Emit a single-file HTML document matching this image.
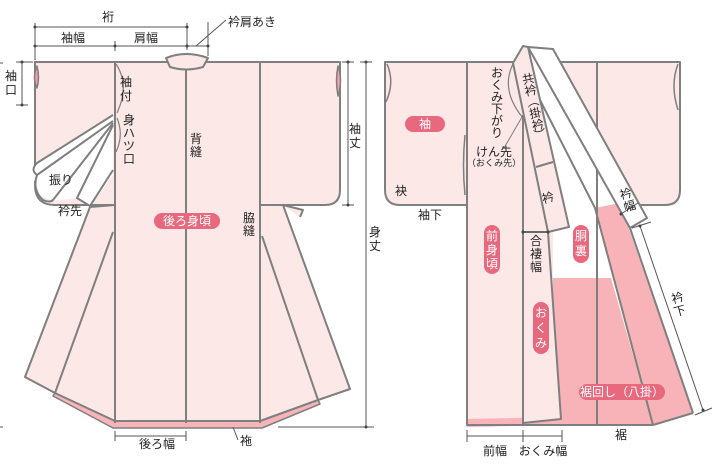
<!DOCTYPE html>
<html><head><meta charset="utf-8"><style>
html,body{margin:0;padding:0;background:#fff;}
svg{display:block;}
text{font-family:"Liberation Sans","Noto Sans CJK JP",sans-serif;font-size:12px;fill:#222;}
.w{fill:#fff;font-size:12px;}
.s{font-size:9px;}
</style></head><body>
<svg width="726" height="465" viewBox="0 0 726 465" xmlns="http://www.w3.org/2000/svg">
<g stroke="#7f7f7f" stroke-width="2" stroke-linejoin="round" fill="none">
<path d="M35,62 H115 V205 H55 Q35,205 35,185 Z" fill="#fde8e8"/>
<path d="M260,62 H340 V190 Q340,205 325,205 H260 Z" fill="#fde8e8"/>
<path d="M283,205 L303,210 L300,217" fill="#fde8e8"/>
<polygon points="55,393 115,421 260,421 318,400 320,404 262,428 113,428 53,396" fill="#f9b4b9" stroke-width="1.5"/>
<polygon points="115,62 260,62 260,205 283,205 350,389 318,400 260,421 115,421 55,393 25,377 90,207 115,205" fill="#fde8e8"/>
<line x1="115" y1="62" x2="115" y2="423"/>
<line x1="260" y1="62" x2="260" y2="423"/>
<line x1="186" y1="66" x2="186" y2="423"/>
<line x1="113" y1="232" x2="55" y2="393"/>
<line x1="262" y1="236" x2="318" y2="400"/>
<polygon points="113,115 33,166 32,175 40,195 53,201 77,198 90,207 113,175" fill="#fff" stroke="none"/>
<path d="M113,115 L37,163 Q30,170 37,175 L113,121"/>
<path d="M37,175 Q32,190 43,200 Q50,203 53,200 L113,123"/>
<path d="M113,125 L77,198 L90,206 L113,170"/>
<path d="M166,58 Q186,50 208,58 L203,67 Q186,72 170,67 Z" fill="#fde8e8"/>
<path d="M37,66 Q32,78 37,88 Q40,78 37,66 Z" fill="#f4a0a8" stroke-width="1.5"/>
<path d="M338,66 Q343,80 338,96 Q335,80 338,66 Z" fill="#f4a0a8" stroke-width="1.5"/>
<path d="M116,64 Q130,85 117,113" stroke-width="1.2"/>
<path d="M117,118 Q124,135 116,152" stroke-width="1.2"/>
<rect x="467" y="62" width="130" height="363" fill="#fde8e8"/>
<path d="M385,62 H467 V205 H400 Q385,205 385,190 Z" fill="#fde8e8"/>
<path d="M597,62 H680 V190 Q680,205 665,205 H597 Z" fill="#fde8e8"/>
<path d="M387,64 Q395,82 386,102" stroke-width="1.5"/>
<path d="M678,64 Q670,85 678,110" stroke-width="1.5"/>
<path d="M465,135 Q462,165 465,195" stroke-width="1.5"/>
<polygon points="528,47 553,49 647,218 630,228 693,413 653,425 553,425 553,232 569,227" fill="#fff" stroke="none"/>
<polygon points="553,278 611,278 653,425 553,425" fill="#f7b3b8" stroke="none"/>
<polygon points="595,208 620,203 693,413 653,425" fill="#f7b3b8" stroke="none"/>
<polygon points="467,419 561,417 561,425 467,427" fill="#f9b4b9" stroke="none"/>
<polygon points="523,232 548,232 561,419 523,423" fill="#fde8e8"/>
<line x1="467" y1="62" x2="467" y2="425"/>
<line x1="597" y1="62" x2="597" y2="425"/>
<line x1="523" y1="115" x2="523" y2="425"/>
<line x1="467" y1="425" x2="653" y2="425"/>
<line x1="653" y1="425" x2="693" y2="413"/>
<polyline points="540,100 595,208 653,425"/>
<polyline points="543,63 630,228 693,413"/>
<polygon points="528,47 553,49 647,218 630,228" fill="#fff"/>
<polygon points="513,63 523,46 528,47 569,227 548,232" fill="#fde8e8"/>
<line x1="536" y1="167" x2="553" y2="162"/>
<path d="M513,64 Q500,90 523,118" stroke-width="1.2"/>
<line x1="522" y1="117" x2="504" y2="148" stroke-width="1"/>
</g>
<g stroke="#555" stroke-width="1" fill="none">
<line x1="35" y1="27" x2="187" y2="27"/><line x1="35" y1="23" x2="35" y2="60"/><line x1="187" y1="23" x2="187" y2="50"/>
<line x1="35" y1="46" x2="208" y2="46"/><line x1="115" y1="41" x2="115" y2="51"/>
<line x1="208" y1="22" x2="208" y2="56"/><line x1="196" y1="46" x2="226" y2="20"/>
<line x1="22" y1="62" x2="22" y2="105"/><line x1="16" y1="62" x2="33" y2="62"/><line x1="16" y1="105" x2="28" y2="105"/>
<line x1="348" y1="62" x2="348" y2="205"/><line x1="342" y1="62" x2="354" y2="62"/><line x1="342" y1="205" x2="354" y2="205"/>
<line x1="366" y1="62" x2="366" y2="427"/><line x1="360" y1="62" x2="372" y2="62"/><line x1="278" y1="427" x2="374" y2="427"/>
<line x1="115" y1="436" x2="186" y2="436"/><line x1="115" y1="431" x2="115" y2="441"/><line x1="186" y1="431" x2="186" y2="441"/>
<line x1="233" y1="427" x2="238" y2="440"/>
<line x1="467" y1="436" x2="562" y2="436"/><line x1="467" y1="430" x2="467" y2="442"/><line x1="523" y1="430" x2="523" y2="442"/><line x1="562" y1="430" x2="562" y2="442"/>
<line x1="523" y1="232" x2="548" y2="232"/>
<line x1="621" y1="214" x2="638" y2="203"/>
<line x1="640" y1="226" x2="703" y2="410"/><line x1="632" y1="228" x2="651" y2="222"/><line x1="695" y1="415" x2="712" y2="408"/>
<line x1="0" y1="63" x2="3" y2="63"/><line x1="0" y1="427" x2="3" y2="427"/>
</g>
<g fill="#444"><circle cx="35" cy="27" r="1.5"/><circle cx="187" cy="27" r="1.5"/><circle cx="35" cy="46" r="1.5"/><circle cx="115" cy="46" r="1.5"/><circle cx="187" cy="46" r="1.5"/><circle cx="208" cy="46" r="1.5"/><circle cx="22" cy="62" r="1.5"/><circle cx="22" cy="105" r="1.5"/><circle cx="348" cy="62" r="1.5"/><circle cx="348" cy="205" r="1.5"/><circle cx="366" cy="62" r="1.5"/><circle cx="366" cy="427" r="1.5"/><circle cx="523" cy="232" r="1.5"/><circle cx="548" cy="232" r="1.5"/><circle cx="621" cy="214" r="1.5"/><circle cx="640" cy="226" r="1.5"/><circle cx="703" cy="410" r="1.5"/></g>
<g fill="#e8697d">
<rect x="154" y="213" width="66" height="16" rx="8"/>
<rect x="405" y="116" width="40" height="16" rx="8"/>
<rect x="484" y="225" width="16" height="49" rx="8"/>
<rect x="573" y="225" width="16" height="38" rx="8"/>
<rect x="533" y="302" width="16" height="52" rx="8"/>
<rect x="579" y="384" width="86" height="16" rx="8"/>
</g>
<g class="w">
<text class="w" x="187" y="225" text-anchor="middle">後ろ身頃</text>
<text class="w" x="425" y="128" text-anchor="middle">袖</text>
<text class="w" x="492" y="240" text-anchor="middle">前</text><text class="w" x="492" y="254" text-anchor="middle">身</text><text class="w" x="492" y="268" text-anchor="middle">頃</text>
<text class="w" x="581" y="240" text-anchor="middle">胴</text><text class="w" x="581" y="255" text-anchor="middle">裏</text>
<text class="w" x="541" y="317" text-anchor="middle">お</text><text class="w" x="541" y="332" text-anchor="middle">く</text><text class="w" x="541" y="347" text-anchor="middle">み</text>
<text class="w" x="622" y="396" text-anchor="middle">裾回し（八掛）</text>
</g>
<text x="108" y="21" text-anchor="middle">裄</text>
<text x="73" y="42" text-anchor="middle">袖幅</text>
<text x="146" y="42" text-anchor="middle">肩幅</text>
<text x="228" y="26">衿肩あき</text>
<text x="11" y="80" text-anchor="middle">袖</text><text x="11" y="94" text-anchor="middle">口</text>
<text x="126" y="86" text-anchor="middle">袖</text><text x="126" y="100" text-anchor="middle">付</text>
<text x="129" y="124" text-anchor="middle">身</text><text x="129" y="137" text-anchor="middle">ハ</text><text x="129" y="150" text-anchor="middle">ツ</text><text x="129" y="163" text-anchor="middle">口</text>
<text x="61" y="184" text-anchor="middle">振り</text>
<text x="70" y="215" text-anchor="middle">衿先</text>
<text x="196" y="143" text-anchor="middle">背</text><text x="196" y="156" text-anchor="middle">縫</text>
<text x="249" y="222" text-anchor="middle">脇</text><text x="249" y="235" text-anchor="middle">縫</text>
<text x="355" y="133" text-anchor="middle">袖</text><text x="355" y="147" text-anchor="middle">丈</text>
<text x="375" y="236" text-anchor="middle">身</text><text x="375" y="250" text-anchor="middle">丈</text>
<text x="157" y="448" text-anchor="middle">後ろ幅</text>
<text x="246" y="445" text-anchor="middle">袘</text>
<text x="401" y="195" text-anchor="middle">袂</text>
<text x="430" y="219" text-anchor="middle">袖下</text>
<g font-size="11">
<text x="497" y="77" text-anchor="middle">お</text><text x="497" y="89" text-anchor="middle">く</text><text x="497" y="101" text-anchor="middle">み</text><text x="497" y="113" text-anchor="middle">下</text><text x="497" y="125" text-anchor="middle">が</text><text x="497" y="137" text-anchor="middle">り</text>
</g>
<g transform="translate(529,83) rotate(-12)" font-size="11">
<text x="0" y="0" text-anchor="middle">共</text><text x="0" y="12" text-anchor="middle">衿</text><text x="0" y="23" text-anchor="middle">︵</text><text x="0" y="35" text-anchor="middle">掛</text><text x="0" y="47" text-anchor="middle">衿</text><text x="0" y="57" text-anchor="middle">︶</text>
</g>
<text x="494" y="156" text-anchor="middle">けん先</text>
<text class="s" x="494" y="166" text-anchor="middle">（おくみ先）</text>
<text x="548" y="202" text-anchor="middle" transform="rotate(-15 548 198)">衿</text>
<text x="536" y="245" text-anchor="middle">合</text><text x="536" y="258" text-anchor="middle">褄</text><text x="536" y="271" text-anchor="middle">幅</text>
<text x="626" y="198" text-anchor="middle" transform="rotate(-15 626 195)">衿</text><text x="630" y="210" text-anchor="middle" transform="rotate(-15 630 207)">幅</text>
<text x="678" y="302" text-anchor="middle" transform="rotate(-15 678 300)">衿</text><text x="680" y="315" text-anchor="middle" transform="rotate(-15 680 312)">下</text>
<text x="621" y="439" text-anchor="middle">裾</text>
<text x="495" y="455" text-anchor="middle">前幅</text>
<text x="543" y="455" text-anchor="middle">おくみ幅</text>
</svg>
</body></html>
